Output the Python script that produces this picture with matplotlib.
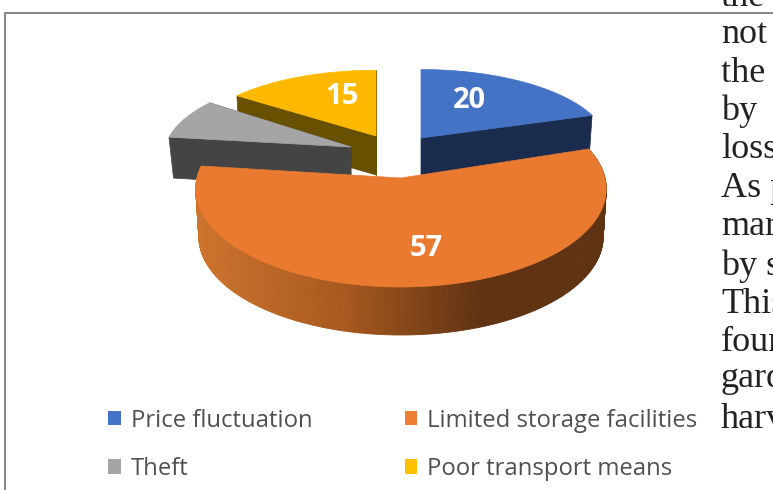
import numpy as np
import matplotlib
matplotlib.use("Agg")
import matplotlib.pyplot as plt
from matplotlib.patches import Polygon, Patch
from matplotlib.colors import LinearSegmentedColormap

categories = ["Price fluctuation", "Limited storage facilities", "Theft", "Poor transport means"]
values = [20, 57, 8, 15]
shown_labels = ["20", "57", None, "15"]
side_text = ["the", "not", "the r", "by", "loss", "As p", "mar", "by s", "This", "four", "gard", "harv"]

top_colors = ["#4472c4", "#ea7a30", "#a5a5a5", "#fdb900"]
wall_colors = ["#1a2c4e", None, "#444444", "#675000"]
legend_colors = ["#4472c4", "#ed7d31", "#a5a5a5", "#ffc000"]

# slice geometry: apex x, apex y, horizontal radius, vertical radius, depth, shrink
geometry = [
    (421, 138, 186, 76, 37, 0.985),
    (401, 178, 204, 97, 48, 0.985),
    (351, 147, 186, 80, 41, 0.975),
    (376, 136, 183, 73, 39, 0.985),
]
label_xy = [(469, 100), (426, 248), None, (342, 96)]
PERSP = 0.11

fig = plt.figure(figsize=(7.73, 4.9), dpi=100, facecolor="white")
ax = fig.add_axes([0, 0, 1, 1])
ax.set_xlim(0, 773)
ax.set_ylim(490, 0)
ax.axis("off")

# frame of the embedded chart
ax.plot([5, 5, 773], [490, 13, 13], color="#868686", lw=1.4, solid_joinstyle="miter", zorder=1)


def rim(theta, g):
    cx, cy, a, b, _, _ = g
    w = 1 + PERSP * np.cos(theta)
    return cx + a * np.sin(theta) / w, cy - b * np.cos(theta) / w


def below(x, y, g):
    cx, _, _, _, d, s = g
    return cx + (x - cx) * s, y + d


edges = np.concatenate([[0], np.cumsum(values)]) / sum(values) * 2 * np.pi
spans = list(zip(edges[:-1], edges[1:]))

shade = LinearSegmentedColormap.from_list(
    "wall", [(0, "#cc732d"), (0.35, "#a9591f"), (0.7, "#5f3212"), (1, "#5f3212")])


def draw_cut(theta, g, color, z):
    cx, cy = g[0], g[1]
    px, py = rim(theta, g)
    qx, qy = below(px, py, g)
    rx, ry = below(cx, cy, g)
    ax.add_patch(Polygon([(cx, cy), (px, py), (qx, qy), (rx, ry)], closed=True,
                         fc=color, ec=color, lw=0.5, zorder=z))


def draw_top(span, g, color, z):
    t = np.linspace(span[0], span[1], 160)
    x, y = rim(t, g)
    pts = np.column_stack([np.r_[g[0], x], np.r_[g[1], y]])
    ax.add_patch(Polygon(pts, closed=True, fc=color, ec=color, lw=0.5, zorder=z))


# painting order from back to front: blue, yellow, grey, orange
for i, z in zip([0, 3, 2], [3, 4, 5]):
    g = geometry[i]
    draw_cut(spans[i][0], g, wall_colors[i], z)
    draw_cut(spans[i][1], g, wall_colors[i], z)
    draw_top(spans[i], g, top_colors[i], z + 0.5)

# orange slice with shaded outer wall
g = geometry[1]
t = np.linspace(spans[1][0], spans[1][1], 240)
x, y = rim(t, g)
xb, yb = below(x, y, g)
for j in range(len(t) - 1):
    f = np.clip((0.5 * (x[j] + x[j + 1]) - 198) / 405, 0, 1)
    c = shade(f)
    ax.add_patch(Polygon([(x[j], y[j]), (x[j + 1], y[j + 1]), (xb[j + 1], yb[j + 1]), (xb[j], yb[j])],
                         closed=True, fc=c, ec=c, lw=0.6, zorder=6))
draw_top(spans[1], g, top_colors[1], 7)

# data labels
for lab, xy in zip(shown_labels, label_xy):
    if lab is not None:
        ax.text(xy[0], xy[1], lab, color="white", fontsize=21, fontweight="bold",
                family="Open Sans", ha="center", va="center", zorder=9)

# legend: matplotlib fills columns first, the reference reads row by row
order = [0, 2, 1, 3]
handles = [Patch(fc=legend_colors[i], ec="none") for i in order]
leg = ax.legend(handles, [categories[i] for i in order], ncols=2, loc="upper left",
                bbox_to_anchor=(108 / 773, 1 - 408.5 / 490),
                frameon=False, labelcolor="#505050", handlelength=0.54, handleheight=0.54,
                handletextpad=0.42, columnspacing=3.85, labelspacing=1.02, borderpad=0, borderaxespad=0,
                prop={"family": "Open Sans", "size": 17.2})

# neighbouring page text, cut by the image edge
baselines = [6, 43, 82, 120, 158, 197, 235, 275, 313, 351, 387, 428]
for s, b in zip(side_text, baselines):
    ax.text(721, b, s, family="Liberation Serif", fontsize=26, color="#222222",
            ha="left", va="baseline", zorder=10)

fig.savefig("out.png", dpi=100)
